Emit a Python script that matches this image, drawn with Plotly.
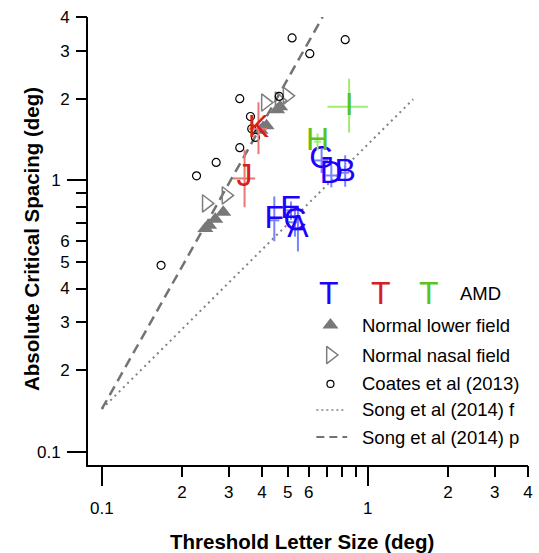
import plotly.graph_objects as go

# ---------------- data ----------------
blue_letters = ['A', 'B', 'C', 'D', 'E', 'F', 'G']
blue_x = [0.546, 0.822, 0.532, 0.729, 0.514, 0.445, 0.670]
blue_y = [0.661, 1.068, 0.701, 1.043, 0.776, 0.713, 1.185]
blue_ey_plus = [0.135, 0.17, 0.08, 0.10, 0.06, 0.16, 0.12]
blue_ey_minus = [0.113, 0.12, 0.08, 0.10, 0.06, 0.116, 0.12]
blue_ex = [0.02, 0.03, 0.02, 0.035, 0.02, 0.02, 0.04]

red_letters = ['J', 'K']
red_x = [0.344, 0.388]
red_y = [1.017, 1.55]
red_ey_plus = [0.28, 0.39]
red_ey_minus = [0.22, 0.30]
red_ex = [0.033, 0.03]

green_letters = ['H', 'I']
green_x = [0.647, 0.850]
green_y = [1.39, 1.87]
green_ey_plus = [0.10, 0.50]
green_ey_minus = [0.10, 0.37]
green_ex_plus = [0.02, 0.15]
green_ex_minus = [0.02, 0.145]

lower_x = [0.286, 0.267, 0.253, 0.245, 0.468, 0.456, 0.416, 0.395]
lower_y = [0.763, 0.719, 0.684, 0.666, 1.87, 1.82, 1.59, 1.53]

nasal_x = [0.247, 0.293, 0.412, 0.464, 0.497]
nasal_y = [0.823, 0.881, 1.935, 1.97, 2.05]

coates_x = [0.167, 0.227, 0.269, 0.330, 0.330, 0.362, 0.366, 0.378, 0.464, 0.519, 0.605, 0.822]
coates_y = [0.487, 1.04, 1.165, 1.32, 2.0, 1.72, 1.55, 1.44, 2.04, 3.35, 2.93, 3.30]

song_f_x = [0.1, 1.48]
song_f_y = [0.144, 1.99]
song_p_x = [0.1, 0.676]
song_p_y = [0.144, 4.0]

major_ticks = [0.1, 1]
major_text = ['0.1', '1']
minor_ticks = [0.2, 0.3, 0.4, 0.5, 0.6, 0.7, 0.8, 0.9, 2, 3, 4]
minor_text = ['2', '3', '4', '5', '6', '', '', '', '2', '3', '4']

legend_labels = ['Normal lower field', 'Normal nasal field', 'Coates et al (2013)',
                 'Song et al (2014) f', 'Song et al (2014) p']

# ---------------- styles ----------------
FONT = "Liberation Sans, Arial, Helvetica, sans-serif"
BLUE, BLUE_ERR = 'rgb(30,0,255)', 'rgb(120,130,255)'
RED, RED_ERR = 'rgb(214,32,32)', 'rgb(232,120,120)'
GREEN, GREEN_ERR = 'rgb(90,195,30)', 'rgb(160,238,110)'
GRAY = 'rgb(120,120,120)'
X_RANGE = [-1.052, 0.602]
Y_RANGE = [-1.048, 0.602]
LETTER_SIZE = 32

fig = go.Figure()

fig.add_trace(go.Scatter(x=song_f_x, y=song_f_y, mode='lines',
                         line=dict(color='rgb(130,130,130)', width=2, dash='2px,4px')))
fig.add_trace(go.Scatter(x=song_p_x, y=song_p_y, mode='lines',
                         line=dict(color='rgb(115,115,115)', width=2.5, dash='10px,6px')))

fig.add_trace(go.Scatter(x=lower_x, y=lower_y, mode='markers',
                         marker=dict(symbol='triangle-up', size=14, color=GRAY,
                                     line=dict(width=0))))
fig.add_trace(go.Scatter(x=nasal_x, y=nasal_y, mode='markers',
                         marker=dict(symbol='triangle-right-open', size=15, color='rgb(125,125,125)',
                                     line=dict(width=1.5))))
fig.add_trace(go.Scatter(x=coates_x, y=coates_y, mode='markers',
                         marker=dict(symbol='circle-open', size=8, color='black',
                                     line=dict(width=1.2))))


def letter_trace(xs, ys, txt, col, ecol, eyp, eym, exp, exm):
    return go.Scatter(
        x=xs, y=ys, mode='text', text=txt, textposition='middle center',
        textfont=dict(family=FONT, size=LETTER_SIZE, color=col),
        error_y=dict(type='data', symmetric=False, array=eyp, arrayminus=eym,
                     color=ecol, thickness=2, width=0),
        error_x=dict(type='data', symmetric=False, array=exp, arrayminus=exm,
                     color=ecol, thickness=2, width=0))


fig.add_trace(letter_trace(blue_x, blue_y, blue_letters, BLUE, BLUE_ERR,
                           blue_ey_plus, blue_ey_minus, blue_ex, blue_ex))
fig.add_trace(letter_trace(red_x, red_y, red_letters, RED, RED_ERR,
                           red_ey_plus, red_ey_minus, red_ex, red_ex))
fig.add_trace(letter_trace(green_x, green_y, green_letters, GREEN, GREEN_ERR,
                           green_ey_plus, green_ey_minus, green_ex_plus, green_ex_minus))

# dummy trace for minor-tick axes
fig.add_trace(go.Scatter(x=[], y=[], xaxis='x2', yaxis='y2', mode='markers'))

# ---------------- legend (drawn manually) ----------------
L_SYM_X = 0.551
L_TXT_X = 0.618
row_y = [0.3125, 0.2455, 0.181, 0.123, 0.0625]
fig.add_trace(go.Scatter(x=[L_SYM_X], y=[row_y[0]], xaxis='x3', yaxis='y3', mode='markers',
                         marker=dict(symbol='triangle-up', size=14, color=GRAY)))
fig.add_trace(go.Scatter(x=[L_SYM_X], y=[row_y[1]], xaxis='x3', yaxis='y3', mode='markers',
                         marker=dict(symbol='triangle-right-open', size=15, color='rgb(125,125,125)',
                                     line=dict(width=1.5))))
fig.add_trace(go.Scatter(x=[L_SYM_X], y=[row_y[2]], xaxis='x3', yaxis='y3', mode='markers',
                         marker=dict(symbol='circle-open', size=7, color='black',
                                     line=dict(width=1.2))))
fig.add_shape(type='line', xref='paper', yref='paper', x0=0.519, x1=0.582, y0=row_y[3], y1=row_y[3],
              line=dict(color='rgb(130,130,130)', width=1.5, dash='2px,3px'))
fig.add_shape(type='line', xref='paper', yref='paper', x0=0.519, x1=0.589, y0=row_y[4], y1=row_y[4],
              line=dict(color='rgb(115,115,115)', width=2, dash='8px,5px'))

annotations = []
for lbl, yy in zip(legend_labels, row_y):
    annotations.append(dict(x=L_TXT_X, y=yy, xref='paper', yref='paper', text=lbl,
                            showarrow=False, xanchor='left', yanchor='middle',
                            font=dict(family=FONT, size=18.5, color='black')))
for tx, col in zip([0.548, 0.667, 0.775], [BLUE, RED, GREEN]):
    annotations.append(dict(x=tx, y=0.385, xref='paper', yref='paper', text='T',
                            showarrow=False, xanchor='center', yanchor='middle',
                            font=dict(family=FONT, size=LETTER_SIZE, color=col)))
annotations.append(dict(x=0.840, y=0.382, xref='paper', yref='paper', text='AMD',
                        showarrow=False, xanchor='left', yanchor='middle',
                        font=dict(family=FONT, size=18.5, color='black')))
annotations.append(dict(x=0.4865, y=-0.17, xref='paper', yref='paper',
                        text='<b>Threshold Letter Size (deg)</b>', showarrow=False,
                        xanchor='center', yanchor='middle',
                        font=dict(family=FONT, size=20.5, color='black')))
annotations.append(dict(x=-0.130, y=0.504, xref='paper', yref='paper',
                        text='<b>Absolute Critical Spacing (deg)</b>', showarrow=False,
                        textangle=-90, xanchor='center', yanchor='middle',
                        font=dict(family=FONT, size=20.5, color='black')))

tickfont = dict(family=FONT, size=17, color='black')
common = dict(type='log', showgrid=False, zeroline=False, ticks='outside',
              tickcolor='black', tickwidth=2, tickfont=tickfont, tickmode='array')

fig.update_layout(
    width=539, height=553,
    margin=dict(l=88, r=6, t=17, b=88),
    paper_bgcolor='white', plot_bgcolor='white',
    showlegend=False, hovermode=False,
    font=dict(family=FONT, color='black'),
    annotations=annotations,
    xaxis=dict(**common, range=X_RANGE, tickvals=major_ticks, ticktext=major_text,
               ticklen=19, ticklabelstandoff=8, showline=True, linecolor='black',
               linewidth=2, anchor='y', domain=[0, 1]),
    xaxis2=dict(**common, range=X_RANGE, tickvals=minor_ticks, ticktext=minor_text,
                ticklen=11, ticklabelstandoff=1, showline=False, overlaying='x',
                anchor='y2', side='bottom'),
    yaxis=dict(**common, range=Y_RANGE, tickvals=major_ticks, ticktext=major_text,
               ticklen=19, ticklabelstandoff=3, showline=True, linecolor='black',
               linewidth=2, anchor='x', domain=[0, 1]),
    yaxis2=dict(**common, range=Y_RANGE, tickvals=minor_ticks, ticktext=minor_text,
                ticklen=11, ticklabelstandoff=3, showline=False, overlaying='y',
                anchor='x2', side='left'),
    xaxis3=dict(range=[0, 1], overlaying='x', anchor='y3', visible=False),
    yaxis3=dict(range=[0, 1], overlaying='y', anchor='x3', visible=False),
)

fig.write_html("out.html")
